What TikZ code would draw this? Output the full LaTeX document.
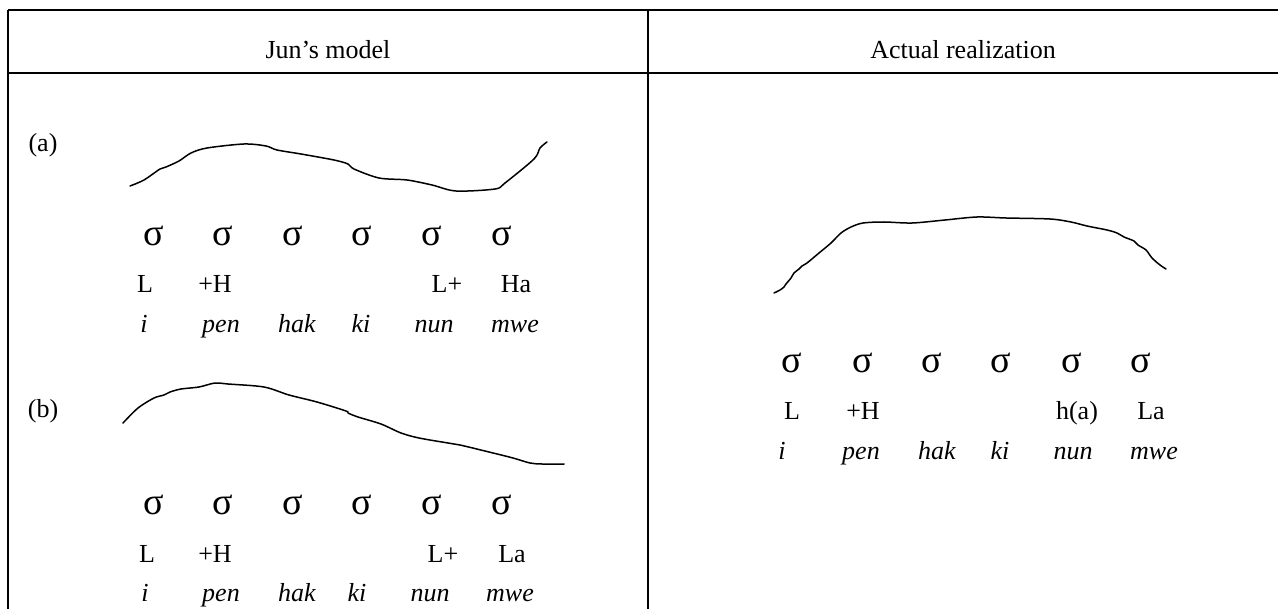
\documentclass[tikz,border=0pt]{standalone}
\usepackage{fontspec}
\setmainfont{Liberation Serif}
\begin{document}
\begin{tikzpicture}[x=0.5pt, y=-0.5pt,
	rule/.style={line width=1pt},
	contour/.style={line width=0.75pt, line join=round, line cap=round},
	txt/.style={anchor=base, inner sep=0pt, font=\fontsize{13}{15}\selectfont},
	syl/.style={anchor=base, inner sep=0pt, font=\fontsize{13}{15}\selectfont\itshape},
	sig/.style={anchor=base, inner sep=0pt, font=\fontsize{19}{22}\selectfont}]
	\useasboundingbox (0,0) rectangle (1278,609);
	% table rules (right and bottom run off the page)
	\draw[rule] (8,10) -- (1278,10);
	\draw[rule] (8,73) -- (1278,73);
	\draw[rule] (8,10) -- (8,609);
	\draw[rule] (648,10) -- (648,609);
	\node[txt] (jun) at (328,59) {Jun's model};
	\node[txt] (act) at (963,59) {Actual realization};
	% (a) : dip before the final Ha
	\node[txt] (laba) at (43,152) {(a)};
	\draw[contour] plot[smooth, tension=0.5] coordinates {(130,186) (144,180) (160,169)
		(166,167) (179,161) (191,153) (207,148) (244,144) (266,146) (277,150) (301,154)
		(334,160) (348,164) (354,169) (379,178) (407,180) (432,185) (456,191) (495,189)
		(505,183) (534,159) (540,148) (547,142)};
	\node[sig] (sa1) at (154,245) {σ};
	\node[sig] (sa2) at (223,245) {σ};
	\node[sig] (sa3) at (293,245) {σ};
	\node[sig] (sa4) at (362,245) {σ};
	\node[sig] (sa5) at (432,245) {σ};
	\node[sig] (sa6) at (502,245) {σ};
	\node[txt] (ta1) at (145,292) {L};
	\node[txt] (ta2) at (215,292) {+H};
	\node[txt] (ta5) at (447,292) {L+};
	\node[txt] (ta6) at (516,292) {Ha};
	\node[syl] (wa1) at (144,332) {i};
	\node[syl] (wa2) at (221,332) {pen};
	\node[syl] (wa3) at (297,332) {hak};
	\node[syl] (wa4) at (361,332) {ki};
	\node[syl] (wa5) at (434,332) {nun};
	\node[syl] (wa6) at (515,332) {mwe};
	% (b) : steady fall to La
	\node[txt] (labb) at (43,417) {(b)};
	\draw[contour] plot[smooth, tension=0.5] coordinates {(123,423) (138,408) (154,398)
		(164,395) (170,392) (181,389) (199,387) (215,383) (228,384) (264,387) (289,395)
		(317,402) (346,411) (348,413) (358,417) (381,424) (401,433) (419,438) (448,443)
		(460,445) (489,452) (513,458) (530,463) (542,464) (564,464)};
	\node[sig] (sb1) at (154,514) {σ};
	\node[sig] (sb2) at (223,514) {σ};
	\node[sig] (sb3) at (293,514) {σ};
	\node[sig] (sb4) at (362,514) {σ};
	\node[sig] (sb5) at (432,514) {σ};
	\node[sig] (sb6) at (502,514) {σ};
	\node[txt] (tb1) at (147,562) {L};
	\node[txt] (tb2) at (215,562) {+H};
	\node[txt] (tb5) at (443,562) {L+};
	\node[txt] (tb6) at (512,562) {La};
	\node[syl] (wb1) at (145,601) {i};
	\node[syl] (wb2) at (221,601) {pen};
	\node[syl] (wb3) at (297,601) {hak};
	\node[syl] (wb4) at (357,601) {ki};
	\node[syl] (wb5) at (430,601) {nun};
	\node[syl] (wb6) at (510,601) {mwe};
	% actual realization : plateau
	\draw[contour] plot[smooth, tension=0.5] coordinates {(774,293) (780,290) (784,287)
		(786,284) (791,278) (794,273) (799,269) (802,266) (807,263) (819,253) (831,243)
		(841,233) (851,227) (863,223) (884,222) (912,223) (945,220) (977,217) (1006,218)
		(1050,219) (1071,222) (1087,226) (1107,230) (1117,233) (1124,237) (1134,241)
		(1138,245) (1146,250) (1152,258) (1160,265) (1166,269)};
	\node[sig] (sr1) at (792,372) {σ};
	\node[sig] (sr2) at (863,372) {σ};
	\node[sig] (sr3) at (932,372) {σ};
	\node[sig] (sr4) at (1001,372) {σ};
	\node[sig] (sr5) at (1072,372) {σ};
	\node[sig] (sr6) at (1141,372) {σ};
	\node[txt] (tr1) at (792,419) {L};
	\node[txt] (tr2) at (863,419) {+H};
	\node[txt] (tr5) at (1077,419) {h(a)};
	\node[txt] (tr6) at (1151,419) {La};
	\node[syl] (wr1) at (782,459) {i};
	\node[syl] (wr2) at (861,459) {pen};
	\node[syl] (wr3) at (937,459) {hak};
	\node[syl] (wr4) at (1000,459) {ki};
	\node[syl] (wr5) at (1073,459) {nun};
	\node[syl] (wr6) at (1154,459) {mwe};
\end{tikzpicture}
\end{document}
